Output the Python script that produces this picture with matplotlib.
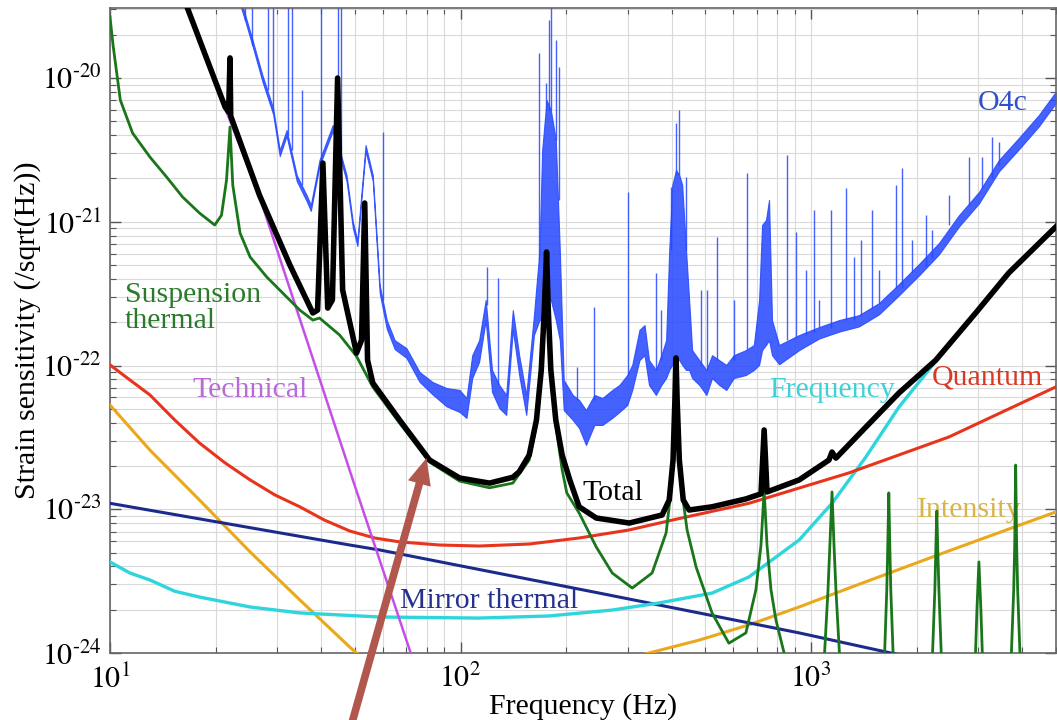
import numpy as np
import matplotlib
matplotlib.use('Agg')
import matplotlib.pyplot as plt
from matplotlib.ticker import NullFormatter, FuncFormatter

plt.rcParams['font.family'] = ['Liberation Serif', 'DejaVu Serif']
plt.rcParams['mathtext.fontset'] = 'stix'

# ---- data: (frequency Hz, strain /sqrt(Hz)) ----
quantum = np.array([[10, 1.01e-22], [11.4, 7.93e-23], [13.0, 6.24e-23], [15.3, 4.18e-23],
                    [18.0, 2.89e-23], [21.3, 2.10e-23], [25.1, 1.60e-23], [29.5, 1.26e-23],
                    [34.8, 1.04e-23], [40.9, 8.41e-24], [48.3, 7.06e-24], [56.9, 6.31e-24],
                    [67.0, 5.93e-24], [87.1, 5.64e-24], [113, 5.55e-24], [157, 5.73e-24],
                    [218, 6.31e-24], [303, 7.18e-24], [402, 8.41e-24], [512, 9.57e-24],
                    [665, 1.10e-23], [1283, 1.79e-23], [2472, 3.18e-23], [4990, 7.09e-23]])

mirror = np.array([[10, 1.10e-23], [48.3, 5.64e-24], [58.8, 5.21e-24], [249, 2.61e-24],
                   [925, 1.38e-24], [1689, 1.00e-24], [2472, 8.26e-25]])

frequency = np.array([[10, 4.30e-24], [11.4, 3.60e-24], [13.0, 3.22e-24], [15.3, 2.69e-24],
                      [18.0, 2.45e-24], [25.1, 2.09e-24], [34.8, 1.90e-24], [58.8, 1.78e-24],
                      [113, 1.75e-24], [179, 1.81e-24], [271, 1.99e-24], [369, 2.23e-24],
                      [522, 2.61e-24], [665, 3.38e-24], [925, 6.11e-24], [1148, 1.10e-23],
                      [1434, 2.31e-23], [1782, 5.14e-23], [2270, 1.07e-22], [2950, 2.29e-22],
                      [3664, 4.35e-22], [4990, 9.1e-22]])

technical = np.array([[16.4, 3.22e-20], [21.4, 6.0e-21], [26.7, 1.5e-21], [31.1, 4.84e-22],
                      [49.3, 1.60e-23], [72.1, 1.0e-24], [76.4, 6.5e-25]])

intensity = np.array([[10, 5.31e-23], [13.0, 2.58e-23], [18.0, 1.16e-23], [25.1, 5.05e-24],
                      [34.8, 2.34e-24], [48.3, 1.10e-24], [67.0, 5.53e-25], [113, 4.0e-25],
                      [249, 8.0e-25], [345, 1.0e-24], [480, 1.23e-24], [665, 1.57e-24],
                      [925, 2.09e-24], [1283, 2.83e-24], [2472, 5.13e-24], [4990, 9.57e-24]])

suspension = np.array([
    [10, 2.66e-20], [10.2, 1.70e-20], [10.7, 7.03e-21], [11.6, 4.14e-21], [13.0, 2.82e-21],
    [14.5, 2.05e-21], [16.1, 1.49e-21], [18.0, 1.15e-21], [19.9, 9.49e-22], [20.8, 1.11e-21],
    [21.5, 1.95e-21], [22.0, 4.56e-21], [22.4, 1.80e-21], [23.5, 8.35e-22], [25.1, 5.69e-22],
    [28.0, 4.13e-22], [31.9, 3.00e-22], [34.8, 2.43e-22], [37.9, 2.07e-22], [39.6, 2.14e-22],
    [45.2, 1.63e-22], [50.5, 1.16e-22], [56.2, 7.09e-23], [67.0, 3.98e-23], [81.6, 2.13e-23],
    [99.4, 1.57e-23], [121, 1.41e-23], [141, 1.52e-23], [157, 2.20e-23], [164.7, 3.86e-23],
    [170, 9.0e-23], [173.4, 2.36e-22], [176, 5.87e-22], [178, 2.36e-22], [181, 9.0e-23],
    [187, 3.86e-23], [195, 1.88e-23], [201, 1.30e-23], [218, 9.42e-24], [244, 5.46e-24],
    [271, 3.60e-24], [309, 2.83e-24], [352, 3.60e-24], [386, 6.84e-24], [402, 1.60e-23],
    [407, 4.18e-23], [412, 1.06e-22], [418, 4.18e-23], [424, 1.60e-23], [443, 7.18e-24],
    [470, 3.97e-24], [522, 1.90e-24], [583, 1.17e-24], [652, 1.38e-24], [696, 2.74e-24],
    [720, 5.64e-24], [735, 1.36e-23], [749, 5.64e-24], [769, 2.74e-24], [794, 1.70e-24],
    [838, 1.0e-24], [894, 5.5e-25],
    [1075, 4.71e-25], [1118, 2.74e-24], [1132, 5.64e-24], [1148, 1.32e-23], [1163, 5.64e-24],
    [1178, 2.74e-24], [1226, 4.71e-25],
    [1605, 4.71e-25], [1645, 2.74e-24], [1656, 5.64e-24], [1667, 1.30e-23], [1678, 5.64e-24],
    [1689, 2.74e-24], [1734, 4.71e-25],
    [2197, 4.71e-25], [2256, 2.74e-24], [2270, 5.21e-24], [2285, 9.72e-24], [2300, 5.21e-24],
    [2317, 2.74e-24], [2379, 4.71e-25],
    [2917, 4.71e-25], [2974, 1.99e-24], [3013, 4.30e-24], [3053, 1.99e-24], [3113, 4.71e-25],
    [3688, 4.71e-25], [3787, 2.74e-24], [3812, 5.64e-24], [3836, 2.03e-23], [3861, 5.64e-24],
    [3887, 2.74e-24], [3989, 4.71e-25]])

total = np.array([
    [16.3, 3.49e-20], [21.3, 6.29e-21], [21.8, 5.79e-21], [22.0, 1.38e-20], [22.1, 5.44e-21],
    [26.7, 1.53e-21], [32.6, 5.00e-22], [37.9, 2.32e-22], [39.1, 2.43e-22], [40.5, 2.56e-21],
    [41.8, 2.51e-22], [43.1, 2.86e-22], [44.6, 1.00e-20], [46.1, 3.35e-22], [50.5, 1.22e-22],
    [52.2, 1.50e-22], [53.3, 1.35e-21], [54.3, 1.09e-22], [56.2, 7.56e-23], [67.0, 4.18e-23],
    [81.6, 2.20e-23], [99.4, 1.65e-23], [121, 1.52e-23], [141, 1.67e-23], [147, 1.82e-23],
    [157, 2.38e-23], [164.7, 4.18e-23], [170, 9.31e-23], [173.4, 2.43e-22], [176, 6.16e-22],
    [178, 2.43e-22], [181, 9.31e-23], [187, 4.18e-23], [195, 2.38e-23], [205, 1.60e-23],
    [218, 1.04e-23], [244, 8.69e-24], [303, 8.02e-24], [376, 9.12e-24], [394, 1.16e-23],
    [404, 2.20e-23], [409, 5.75e-23], [412, 1.13e-22], [415, 5.75e-23], [421, 2.20e-23],
    [432, 1.16e-23], [449, 9.88e-24], [522, 1.04e-23], [652, 1.18e-23], [720, 1.28e-23],
    [735, 3.56e-23], [749, 1.32e-23], [925, 1.60e-23], [1125, 2.20e-23], [1148, 2.50e-23],
    [1178, 2.27e-23], [1434, 3.73e-23], [1782, 6.44e-23], [2270, 1.09e-22], [2950, 2.32e-22],
    [3664, 4.40e-22], [4990, 9.2e-22]])

# O4c measured noise: band (freq, upper, lower) plus narrow lines (freq, top, base)
o4c_band = np.array([
    [23.2, 3.97e-20, 3.61e-20], [24.3, 2.75e-20, 2.50e-20], [25.6, 1.78e-20, 1.62e-20],
    [27.2, 1.05e-20, 9.5e-21], [29.2, 6.18e-21, 5.6e-21], [30.5, 3.15e-21, 2.86e-21],
    [31.9, 4.35e-21, 3.95e-21], [34.1, 2.11e-21, 1.92e-21], [36.4, 1.53e-21, 1.39e-21],
    [37.4, 1.31e-21, 1.19e-21], [39.6, 2.69e-21, 2.45e-21], [43.2, 4.71e-21, 4.28e-21],
    [47.3, 2.11e-21, 1.92e-21], [49.3, 9.96e-22, 9.05e-22], [50.8, 7.46e-22, 6.78e-22],
    [53.6, 3.42e-21, 3.11e-21], [56.2, 2.11e-21, 1.92e-21], [58.8, 3.63e-22, 3.2e-22],
    [61.6, 2.07e-22, 1.8e-22], [64.9, 1.50e-22, 1.3e-22], [70.1, 1.32e-22, 1.13e-22],
    [76.4, 9.02e-23, 7.7e-23], [83.2, 7.68e-23, 6.3e-23], [91.2, 6.97e-23, 5.2e-23],
    [99.4, 6.76e-23, 4.75e-23], [104, 5.94e-23, 4.32e-23], [108, 1.18e-22, 8.18e-23],
    [113, 1.50e-22, 1.06e-22], [118, 2.86e-22, 2.07e-22], [123, 9.31e-23, 6.55e-23],
    [129, 7.32e-23, 5.06e-23], [135, 6.24e-23, 4.53e-23], [141, 2.43e-22, 1.77e-22],
    [147, 1.18e-22, 8.59e-23], [154, 6.24e-23, 4.53e-23], [162, 2.24e-22, 1.63e-22],
    [168, 6.36e-22, 2.07e-22], [171, 3.15e-21, 2.07e-22], [176, 7.03e-21, 2.86e-22],
    [181, 5.98e-21, 2.86e-22], [187, 3.71e-21, 2.07e-22], [192, 6.36e-22, 1.50e-22],
    [197, 7.93e-23, 4.90e-23], [209, 6.24e-23, 4.18e-23], [218, 5.75e-23, 3.67e-23],
    [228, 4.90e-23, 2.80e-23], [241, 6.24e-23, 3.86e-23], [254, 5.94e-23, 3.86e-23],
    [271, 6.76e-23, 4.32e-23], [284, 7.32e-23, 4.75e-23], [299, 8.59e-23, 5.31e-23],
    [309, 1.01e-22, 6.76e-23], [324, 1.77e-22, 1.09e-22], [335, 1.91e-22, 1.18e-22],
    [345, 1.09e-22, 7.32e-23], [361, 9.31e-23, 6.24e-23], [374, 1.18e-22, 7.32e-23],
    [386, 1.50e-22, 8.18e-23], [394, 6.36e-22, 9.31e-23], [402, 1.80e-21, 1.01e-22],
    [412, 2.29e-21, 1.09e-22], [421, 2.11e-21, 1.09e-22], [429, 1.80e-21, 1.01e-22],
    [440, 6.36e-22, 9.31e-23], [449, 2.86e-22, 9.31e-23], [458, 1.28e-22, 8.18e-23],
    [480, 1.09e-22, 7.32e-23], [503, 9.31e-23, 6.24e-23], [522, 1.18e-22, 8.18e-23],
    [547, 1.09e-22, 7.32e-23], [573, 1.01e-22, 6.76e-23], [602, 1.18e-22, 8.18e-23],
    [652, 1.28e-22, 8.59e-23], [687, 1.39e-22, 9.31e-23], [711, 2.86e-22, 1.01e-22],
    [725, 9.49e-22, 1.28e-22], [744, 1.03e-21, 1.39e-22], [759, 1.42e-21, 1.50e-22],
    [774, 2.07e-22, 1.18e-22], [811, 1.39e-22, 1.02e-22], [925, 1.63e-22, 1.28e-22],
    [1054, 1.85e-22, 1.54e-22], [1202, 2.07e-22, 1.72e-22], [1370, 2.24e-22, 1.87e-22],
    [1563, 2.72e-22, 2.27e-22], [1782, 3.69e-22, 3.08e-22], [2032, 5.08e-22, 4.23e-22],
    [2317, 7.11e-22, 5.93e-22], [2642, 1.11e-21, 9.25e-22], [3013, 1.61e-21, 1.34e-21],
    [3436, 2.69e-21, 2.24e-21], [3917, 3.83e-21, 3.19e-21], [4467, 5.53e-21, 4.61e-21],
    [4990, 8.00e-21, 6.67e-21]])

o4c_lines = np.array([
    [24.3, 4.09e-20, 2.53e-20], [25.4, 4.09e-20, 1.70e-20], [28.2, 4.09e-20, 8.26e-21],
    [29.2, 4.09e-20, 5.98e-21], [32.1, 4.09e-20, 4.02e-21], [33.0, 4.09e-20, 3.15e-21],
    [35.3, 8.26e-21, 1.80e-21], [40.1, 4.09e-20, 2.48e-21], [44.6, 4.09e-20, 3.71e-21],
    [45.5, 4.09e-20, 3.15e-21], [60.0, 4.21e-21, 2.86e-22], [119, 4.84e-22, 2.64e-22],
    [128, 4.06e-22, 7.32e-23], [168, 1.49e-20, 5.42e-22], [175, 9.25e-21, 5.98e-21],
    [179, 2.53e-20, 5.98e-21], [181, 4.09e-20, 5.98e-21], [187, 1.84e-20, 3.71e-21],
    [191, 1.19e-20, 1.42e-21], [215, 9.78e-23, 5.75e-23], [241, 2.55e-22, 5.75e-23],
    [301, 1.61e-21, 8.59e-23], [361, 4.40e-22, 9.31e-23], [374, 2.43e-22, 1.09e-22],
    [399, 1.75e-21, 6.36e-22], [412, 4.86e-21, 2.11e-21], [421, 5.98e-21, 2.11e-21],
    [440, 2.05e-21, 6.36e-22], [486, 3.35e-22, 1.01e-22], [506, 3.35e-22, 9.31e-23],
    [540, 7.83e-22, 1.09e-22], [602, 2.86e-22, 1.09e-22], [656, 2.18e-21, 1.28e-22],
    [855, 2.91e-21, 1.50e-22], [906, 8.49e-22, 1.58e-22], [968, 4.61e-22, 1.63e-22],
    [1020, 1.21e-21, 1.70e-22], [1054, 2.86e-22, 1.85e-22], [1140, 1.21e-21, 1.82e-22],
    [1258, 1.72e-21, 2.07e-22], [1325, 5.69e-22, 2.07e-22], [1388, 7.46e-22, 2.20e-22],
    [1491, 1.21e-21, 2.51e-22], [1563, 4.61e-22, 2.72e-22], [1747, 1.80e-21, 3.46e-22],
    [1817, 2.37e-21, 3.46e-22], [1939, 7.46e-22, 4.47e-22], [2128, 1.11e-21, 4.92e-22],
    [2211, 8.77e-22, 5.60e-22], [2472, 1.53e-21, 9.49e-22], [2818, 2.82e-21, 1.31e-21],
    [3073, 2.82e-21, 1.72e-21], [3278, 3.89e-21, 2.01e-21], [3436, 3.59e-21, 2.48e-21]])

arrow_tip = (80.0, 2.27e-23)
arrow_tail = (48.9, 3.2e-25)

y_ticks = [1e-24, 1e-23, 1e-22, 1e-21, 1e-20]
x_ticks = [10, 100, 1000]


def pow_label(v, pos):
    # hyphen-style minus like the original axis labels
    e = int(round(np.log10(v)))
    if e < 0:
        return r'$10^{\text{-}%d}$' % (-e)
    return r'$10^{%d}$' % e


# ---- figure ----
fig = plt.figure(figsize=(10.57, 7.2), dpi=100)
ax = fig.add_axes([110 / 1057, 67 / 720, 946 / 1057, 645 / 720])
ax.set_xscale('log')
ax.set_yscale('log')
ax.set_xlim(10, 5000)
ax.set_ylim(1e-24, 3.07e-20)
ax.set_xticks(x_ticks)
ax.set_yticks(y_ticks)
ax.xaxis.set_major_formatter(FuncFormatter(pow_label))
ax.yaxis.set_major_formatter(FuncFormatter(pow_label))

ax.grid(True, which='both', color='#dadada', lw=0.8, zorder=0)
ax.set_axisbelow(True)

blue = '#2447ff'
ax.fill_between(o4c_band[:, 0], o4c_band[:, 2], o4c_band[:, 1], color=blue,
                lw=0.8, alpha=0.85, zorder=2)
ax.vlines(o4c_lines[:, 0], o4c_lines[:, 2], o4c_lines[:, 1], color=blue, lw=1.0,
          alpha=0.85, zorder=2)

ax.plot(intensity[:, 0], intensity[:, 1], color='#eaa81c', lw=2.2, zorder=3)
ax.plot(mirror[:, 0], mirror[:, 1], color='#1c2a8c', lw=2.2, zorder=3)
ax.plot(frequency[:, 0], frequency[:, 1], color='#2ed6dc', lw=2.4, zorder=3)
ax.plot(quantum[:, 0], quantum[:, 1], color='#e8341c', lw=2.2, zorder=3)
ax.plot(technical[:, 0], technical[:, 1], color='#c44fe6', lw=1.8, zorder=3)
ax.plot(suspension[:, 0], suspension[:, 1], color='#1a761a', lw=2.0, zorder=4)
ax.plot(total[:, 0], total[:, 1], color='black', lw=4.0, zorder=5)

fs = 21.5
ax.text(11.0, 2.77e-22, 'Suspension', color='#2b7a2b', fontsize=fs, zorder=1.5)
ax.text(11.0, 1.82e-22, 'thermal', color='#2b7a2b', fontsize=fs, zorder=1.5)
ax.text(17.2, 6.04e-23, 'Technical', color='#b96ad8', fontsize=fs, zorder=1.5)
ax.text(67.0, 2.06e-24, 'Mirror thermal', color='#26318e', fontsize=fs, zorder=1.5)
ax.text(222.6, 1.16e-23, 'Total', color='black', fontsize=fs, zorder=1.5)
ax.text(759, 6.04e-23, 'Frequency', color='#3ed2d8', fontsize=fs, zorder=1.5)
ax.text(2212, 7.32e-23, 'Quantum', color='#d63a26', fontsize=fs, zorder=1.5)
ax.text(2004, 8.83e-24, 'Intensity', color='#d8b447', fontsize=fs, zorder=1.5)
ax.text(2991, 5.98e-21, 'O4c', color='#3050cc', fontsize=fs, zorder=1.5)

ax.annotate('', xy=arrow_tip, xytext=arrow_tail,
            arrowprops=dict(facecolor='#b2574e', edgecolor='none', width=5.5,
                            headwidth=17, headlength=19, shrink=0),
            annotation_clip=False, zorder=6)

ax.tick_params(which='both', direction='in', top=True, right=True, color='#555555',
               labelsize=fs)
ax.tick_params(which='major', length=8, width=1.0)
ax.tick_params(which='minor', length=4, width=0.8)
ax.tick_params(axis='x', which='major', pad=8)
ax.tick_params(axis='y', which='major', pad=6)
ax.xaxis.set_minor_formatter(NullFormatter())
ax.yaxis.set_minor_formatter(NullFormatter())
for s in ax.spines.values():
    s.set_color('#666666')
    s.set_linewidth(1.2)

ax.set_xlabel('Frequency (Hz)', fontsize=fs, labelpad=0)
ax.set_ylabel('Strain sensitivity (/sqrt(Hz))', fontsize=fs, labelpad=1)

fig.savefig('out.png', dpi=100)
